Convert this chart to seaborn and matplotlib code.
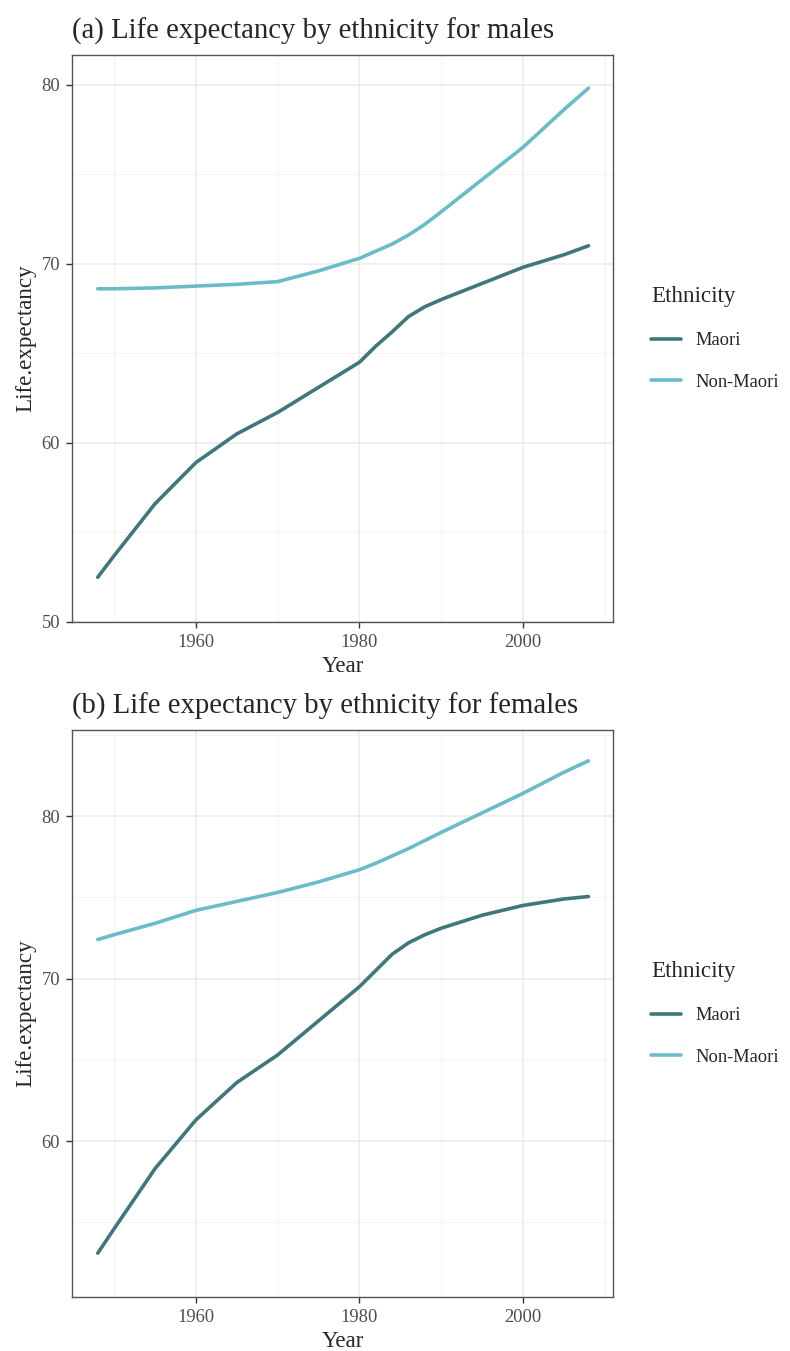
import pandas as pd
import numpy as np
import matplotlib
matplotlib.use('Agg')
import matplotlib.pyplot as plt
from matplotlib.ticker import MultipleLocator
import seaborn as sns

male_years = [1948, 1950, 1955, 1960, 1965, 1970, 1975, 1980, 1982, 1984, 1986, 1988, 1990, 1995, 2000, 2005, 2008]
male_maori = [52.5, 53.7, 56.6, 58.9, 60.5, 61.7, 63.1, 64.5, 65.4, 66.2, 67.05, 67.6, 68.0, 68.9, 69.8, 70.5, 71.0]
male_non_maori = [68.6, 68.6, 68.65, 68.75, 68.85, 69.0, 69.6, 70.3, 70.7, 71.1, 71.6, 72.2, 72.9, 74.7, 76.5, 78.6, 79.8]

female_years = [1948, 1950, 1955, 1960, 1965, 1970, 1975, 1980, 1982, 1984, 1986, 1988, 1990, 1995, 2000, 2005, 2008]
female_maori = [53.1, 54.6, 58.3, 61.3, 63.6, 65.3, 67.4, 69.5, 70.5, 71.5, 72.2, 72.7, 73.1, 73.9, 74.5, 74.9, 75.05]
female_non_maori = [72.4, 72.7, 73.4, 74.2, 74.75, 75.3, 75.95, 76.7, 77.1, 77.55, 78.0, 78.5, 79.0, 80.2, 81.4, 82.7, 83.4]

ethnic_groups = ['Maori', 'Non-Maori']
panel_titles = ['(a) Life expectancy by ethnicity for males',
                '(b) Life expectancy by ethnicity for females']
palette = {'Maori': '#40777b', 'Non-Maori': '#6bbcc6'}


def long_df(years, maori, non_maori):
    df = pd.DataFrame({'Year': years, 'Maori': maori, 'Non-Maori': non_maori})
    return df.melt(id_vars='Year', var_name='Ethnicity', value_name='Life.expectancy')


sns.set_theme(style='white')
plt.rcParams['font.family'] = ['Liberation Serif', 'DejaVu Serif']

fig = plt.figure(figsize=(7.9, 13.51), dpi=100)
W, H = 790, 1351
# axes boxes in pixels: left, top, right, bottom
boxes = [(72, 55, 613, 622), (72, 730, 613, 1297)]
ylims = [(50, 81.65), (50.4, 85.3)]
data = [long_df(male_years, male_maori, male_non_maori),
        long_df(female_years, female_maori, female_non_maori)]

for i, (l, t, r, b) in enumerate(boxes):
    ax = fig.add_axes([l / W, 1 - b / H, (r - l) / W, (b - t) / H])
    sns.lineplot(data=data[i], x='Year', y='Life.expectancy', hue='Ethnicity',
                 hue_order=ethnic_groups, palette=palette, linewidth=2.6, ax=ax)
    ax.set_xlim(1944.85, 2011)
    ax.set_ylim(*ylims[i])
    ax.xaxis.set_major_locator(MultipleLocator(20))
    ax.xaxis.set_minor_locator(MultipleLocator(10))
    ax.yaxis.set_major_locator(MultipleLocator(10))
    ax.yaxis.set_minor_locator(MultipleLocator(5))
    ax.grid(which='major', color='#ebebeb', linewidth=1.1)
    ax.grid(which='minor', color='#f2f2f2', linewidth=0.6)
    ax.set_axisbelow(True)
    for sp in ax.spines.values():
        sp.set_color('#555555')
        sp.set_linewidth(1.0)
    ax.tick_params(axis='both', which='major', length=4, width=1, color='#333333',
                   labelsize=13.3, labelcolor='#4d4d4d', bottom=True, left=True, pad=4.5)
    ax.tick_params(which='minor', length=0)
    ax.set_xlabel('Year', fontsize=16.6, labelpad=4)
    ax.set_ylabel('Life.expectancy', fontsize=16.6, labelpad=4)
    ax.set_title(panel_titles[i], fontsize=20.7, loc='left', pad=12, x=0.0)
    leg = ax.legend(title='Ethnicity', loc='center left', bbox_to_anchor=(1.04, 0.5),
                    frameon=False, fontsize=13.3, title_fontsize=16.6,
                    handlelength=1.6, handletextpad=0.8, labelspacing=1.35)
    leg._legend_box.align = 'left'
    for ln in leg.get_lines():
        ln.set_linewidth(2.6)

fig.savefig('out.png', dpi=100, facecolor='white')
